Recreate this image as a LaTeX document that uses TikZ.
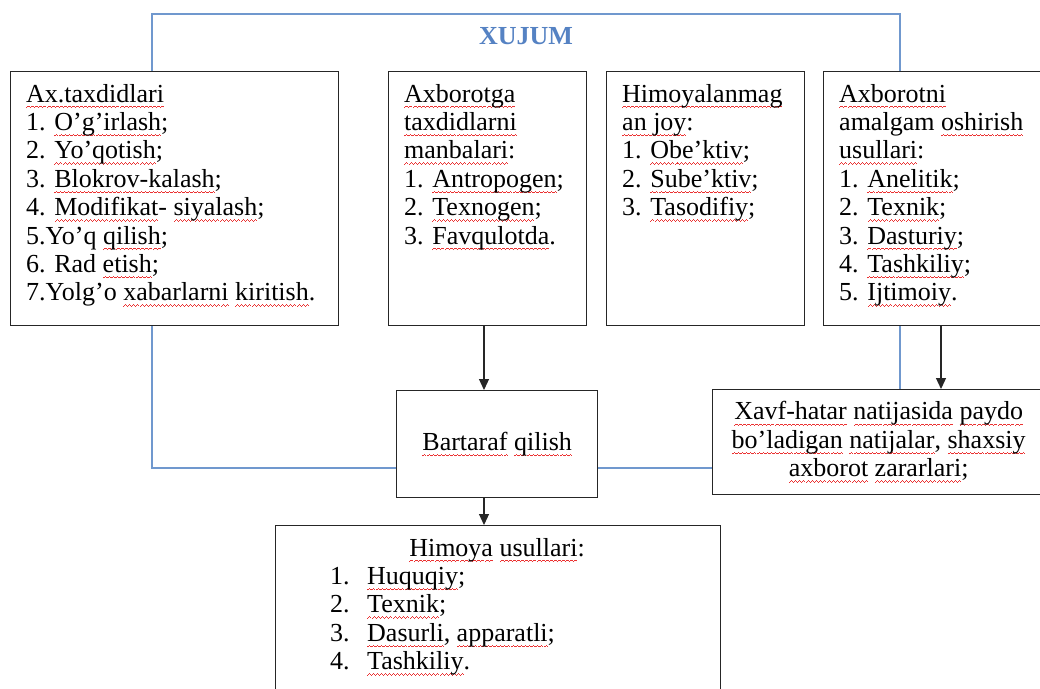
\documentclass[tikz,border=0pt]{standalone}
\usepackage{fontspec}
\setmainfont{Liberation Serif}
\usetikzlibrary{arrows.meta}
\definecolor{xblue}{RGB}{85,130,195}
\definecolor{lblue}{RGB}{112,152,206}
\definecolor{sqred}{RGB}{235,50,50}
\newcommand\wvpiece{\hbox{\rule[-6pt]{1pt}{1pt}\rule[-5.3pt]{1pt}{1pt}\rule[-4.6pt]{1pt}{1pt}\rule[-5.3pt]{1pt}{1pt}}}
\newcommand\sq[1]{\leavevmode\setbox0\hbox{#1}\rlap{\hbox to\wd0{\color{sqred}\xleaders\wvpiece\hfil}}\box0\relax}
\newcommand\tf{\fontsize{26}{28.4}\selectfont}
\begin{document}
\begin{tikzpicture}[x=1pt,y=-1pt,
  box/.style={draw=black!85, line width=1.3pt, inner sep=0pt, anchor=north west, fill=white},
  txt/.style={inner sep=0pt, anchor=base west, font=\tf},
  blueline/.style={draw=lblue, line width=1.2pt},
  arr/.style={draw=black!85, line width=1.2pt, -{Triangle[length=11pt,width=10pt]}}]
\useasboundingbox (0,0) rectangle (1040,688);
\fill[white] (0,0) rectangle (1040,688);

% boxes
\node[box, minimum width=328pt, minimum height=254pt] (b1) at (10,71) {};
\node[box, minimum width=198pt, minimum height=254pt] (b2) at (388,71) {};
\node[box, minimum width=198pt, minimum height=254pt] (b3) at (606,71) {};
\node[box, minimum width=232pt, minimum height=254pt] (b4) at (823,71) {};
\node[box, minimum width=201pt, minimum height=107pt, font=\tf] (bt) at (396,390) {\sq{Bartaraf} \sq{qilish}};
\node[box, minimum width=332pt, minimum height=105pt, font=\tf, align=center] (xv) at (712,389)
  {\sq{Xavf-hatar} \sq{natijasida} \sq{paydo}\\ \sq{bo’ladigan} \sq{natijalar}, \sq{shaxsiy}\\ \sq{axborot} \sq{zararlari};};
\node[box, minimum width=445pt, minimum height=180pt] (hm) at (275,525) {};

% title
\node[inner sep=0pt, anchor=base, font=\fontsize{26}{30}\selectfont\bfseries, text=xblue] (title) at (526,44) {XUJUM};

% texts
\node[txt] (t1) at (26,102) {\parbox[t]{400pt}{\raggedright
\sq{Ax.taxdidlari}\\
1. \sq{O’g’irlash};\\
2. \sq{Yo’qotish};\\
3. \sq{Blokrov-kalash};\\
4. \sq{Modifikat}- \sq{siyalash};\\
5.Yo’q \sq{qilish};\\
6. Rad \sq{etish};\\
7.Yolg’o \sq{xabarlarni} \sq{kiritish}.}};
\node[txt] (t2) at (404,102) {\parbox[t]{400pt}{\raggedright
\sq{Axborotga}\\
\sq{taxdidlarni}\\
\sq{manbalari}:\\
1. \sq{Antropogen};\\
2. \sq{Texnogen};\\
3. \sq{Favqulotda}.}};
\node[txt] (t3) at (622,102) {\parbox[t]{400pt}{\raggedright
\sq{Himoyalanmag}\\
\sq{an joy}:\\
1. \sq{Obe’ktiv};\\
2. \sq{Sube’ktiv};\\
3. \sq{Tasodifiy};}};
\node[txt] (t4) at (839,102) {\parbox[t]{400pt}{\raggedright
\sq{Axborotni}\\
amalgam \sq{oshirish}\\
\sq{usullari}:\\
1. \sq{Anelitik};\\
2. \sq{Texnik};\\
3. \sq{Dasturiy};\\
4. \sq{Tashkiliy};\\
5. \sq{Ijtimoiy}.}};
\node[inner sep=0pt, anchor=base, font=\tf] (ht) at (497,556) {\sq{Himoya} \sq{usullari}:};
\node[txt] (hl) at (330,584.4) {\parbox[t]{400pt}{\raggedright
\makebox[37pt][l]{1.}\sq{Huquqiy};\\
\makebox[37pt][l]{2.}\sq{Texnik};\\
\makebox[37pt][l]{3.}\sq{Dasurli}, \sq{apparatli};\\
\makebox[37pt][l]{4.}\sq{Tashkiliy}.}};

% blue connectors
\draw[blueline] (152,0 |- b1.north) -- (152,14) -- (900,14) -- (900,0 |- b4.north);
\draw[blueline] (152,0 |- b1.south) -- (152,468) -- (bt.west |- 0,468);
\draw[blueline] (bt.east |- 0,468) -- (xv.west |- 0,468);
\draw[blueline] (900,0 |- b4.south) -- (900,0 |- xv.north);

% arrows
\draw[arr] (484,0 |- b2.south) -- (484,0 |- bt.north);
\draw[arr] (484,0 |- bt.south) -- (484,0 |- hm.north);
\draw[arr] (941,0 |- b4.south) -- (941,0 |- xv.north);
\end{tikzpicture}
\end{document}
